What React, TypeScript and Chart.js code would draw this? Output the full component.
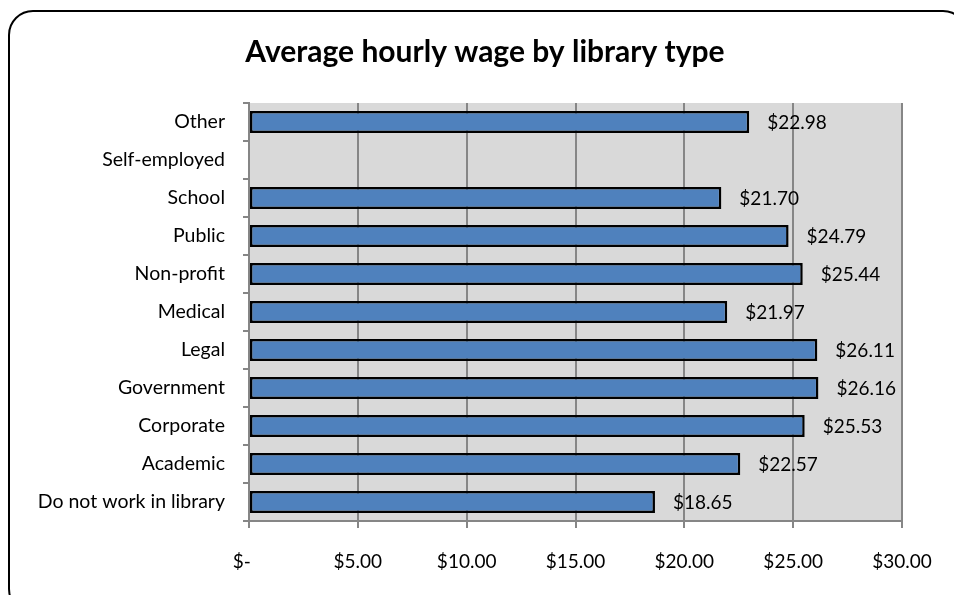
import React, { useEffect, useRef } from "react";
import { Chart, registerables } from "chart.js";

Chart.register(...registerables);

const chartTitle = "Average hourly wage by library type";
const categories = [
  "Other",
  "Self-employed",
  "School",
  "Public",
  "Non-profit",
  "Medical",
  "Legal",
  "Government",
  "Corporate",
  "Academic",
  "Do not work in library",
];
const wages: (number | null)[] = [22.98, null, 21.7, 24.79, 25.44, 21.97, 26.11, 26.16, 25.53, 22.57, 18.65];
const xTickLabels = ["$-   ", "$5.00", "$10.00", "$15.00", "$20.00", "$25.00", "$30.00"];

const FONT = "Lato, 'Noto Sans', sans-serif";

const plotBg = {
  id: "plotBg",
  beforeDraw(chart: any) {
    const { ctx, chartArea } = chart;
    ctx.save();
    ctx.fillStyle = "#D9D9D9";
    ctx.fillRect(chartArea.left, chartArea.top, chartArea.right - chartArea.left, chartArea.bottom - chartArea.top);
    ctx.restore();
  },
};

const titleText = {
  id: "titleText",
  afterDraw(chart: any) {
    const { ctx } = chart;
    ctx.save();
    ctx.font = `bold 30px ${FONT}`;
    ctx.fillStyle = "#000";
    ctx.textAlign = "center";
    ctx.textBaseline = "middle";
    ctx.fillText(chartTitle, 485, 52);
    ctx.restore();
  },
};

const valueLabels = {
  id: "valueLabels",
  afterDatasetsDraw(chart: any) {
    const { ctx } = chart;
    const meta = chart.getDatasetMeta(0);
    ctx.save();
    ctx.font = `19px ${FONT}`;
    ctx.fillStyle = "#000";
    ctx.textAlign = "left";
    ctx.textBaseline = "middle";
    meta.data.forEach((el: any, i: number) => {
      const v = wages[i];
      if (v == null) return;
      ctx.fillText("$" + v.toFixed(2), el.x + 18, el.y + 1);
    });
    ctx.restore();
  },
};

export default function App() {
  const ref = useRef<HTMLCanvasElement | null>(null);
  useEffect(() => {
    if (!ref.current) return;
    const chart = new Chart(ref.current, {
      type: "bar",
      data: {
        labels: categories,
        datasets: [
          {
            data: wages,
            backgroundColor: "#4F81BD",
            borderColor: "#000000",
            borderWidth: 2.5,
            borderSkipped: false,
            categoryPercentage: 0.58,
            barPercentage: 1,
          },
        ],
      },
      options: {
        indexAxis: "y",
        responsive: false,
        animation: false,
        layout: { padding: { left: 16, right: 52, top: 103, bottom: 0 } },
        plugins: {
          legend: { display: false },
          tooltip: { enabled: false },
          title: { display: false },
        },
        scales: {
          x: {
            min: 0,
            max: 30,
            ticks: {
              stepSize: 5,
              color: "#000",
              font: { family: FONT, size: 19 },
              padding: 22,
              callback: (_v: any, i: number) => xTickLabels[i],
            },
            grid: { color: "#868686", lineWidth: 2, tickLength: 7, drawTicks: true },
            border: { display: true, color: "#868686", width: 2 },
            afterFit: (s: any) => {
              s.height = 74;
            },
          },
          y: {
            ticks: {
              color: "#000",
              font: { family: FONT, size: 19.5 },
              padding: 18,
            },
            grid: { drawOnChartArea: false, color: "#868686", lineWidth: 2, tickLength: 6, offset: true },
            border: { display: true, color: "#868686", width: 2 },
            afterFit: (s: any) => {
              s.width = 233;
            },
          },
        },
      },
      plugins: [plotBg, valueLabels, titleText],
    });
    return () => chart.destroy();
  }, []);

  return (
    <div style={{ position: "fixed", left: 0, top: 0, width: 954, height: 595, overflow: "hidden", background: "#fff" }}>
      <canvas ref={ref} width={954} height={595} style={{ position: "absolute", left: 0, top: 0 }} />
      <div
        style={{
          position: "absolute",
          left: 8,
          top: 10,
          width: 956,
          height: 600,
          border: "2px solid #000",
          borderRadius: 25,
          pointerEvents: "none",
        }}
      />
    </div>
  );
}
